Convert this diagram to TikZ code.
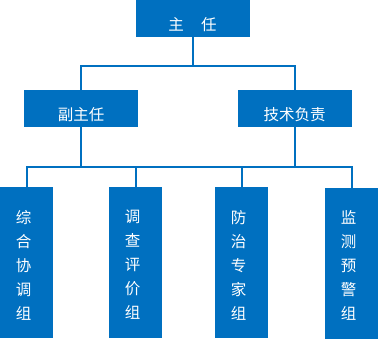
\documentclass[tikz,border=0pt]{standalone}
\usepackage{fontspec}
\newfontfamily\cjk{Noto Sans CJK SC}
\definecolor{orgblue}{HTML}{0070C0}
\tikzset{
  box/.style={fill=orgblue, draw=none, inner sep=0pt, outer sep=0pt},
  wide/.style={box, minimum width=114pt, minimum height=37pt},
  tall/.style={box, minimum width=53pt, minimum height=151pt},
  lbl/.style={text=white, font=\cjk\fontsize{15.5}{24}\selectfont, inner sep=0pt, align=center},
  conn/.style={draw=orgblue, line width=2pt}
}
\begin{document}
\begin{tikzpicture}[x=1pt,y=-1pt]
\useasboundingbox (0,0) rectangle (379,339);
% boxes
\node[wide] (top) at (192.5,18.5) {};
\node[wide] (vice) at (81,108.5) {};
\node[wide] (tech) at (294.5,108.5) {};
\node[tall] (g1) at (26.5,262.5) {};
\node[tall] (g2) at (135.5,262.5) {};
\node[tall] (g3) at (241.5,262.5) {};
\node[tall] (g4) at (351.5,263) {};
% labels
\node[lbl] (ttop) at (192.5,25) {主\hspace{1.1em}任};
\node[lbl] (tvice) at (81,115) {副主任};
\node[lbl] (ttech) at (294.5,115) {技术负责};
\node[lbl] (tg1) at (23.5,265) {综\\合\\协\\调\\组};
\node[lbl] (tg2) at (132.5,265) {调\\查\\评\\价\\组};
\node[lbl] (tg3) at (238.5,265) {防\\治\\专\\家\\组};
\node[lbl] (tg4) at (348.5,265) {监\\测\\预\\警\\组};
% connectors
\coordinate (bus1) at (192.5,66.5);
\coordinate (bus2) at (192.5,167);
\draw[conn] (top.south) -- (bus1);
\draw[conn] (vice.north) |- (bus1) -| (tech.north);
\draw[conn] (vice.south) -- (vice.south |- bus2);
\draw[conn] (tech.south) -- (tech.south |- bus2);
\draw[conn] (g1.north) |- (g4.north |- bus2) -- (g4.north);
\draw[conn] (g2.north) -- (g2.north |- bus2);
\draw[conn] (g3.north) -- (g3.north |- bus2);
\end{tikzpicture}
\end{document}
